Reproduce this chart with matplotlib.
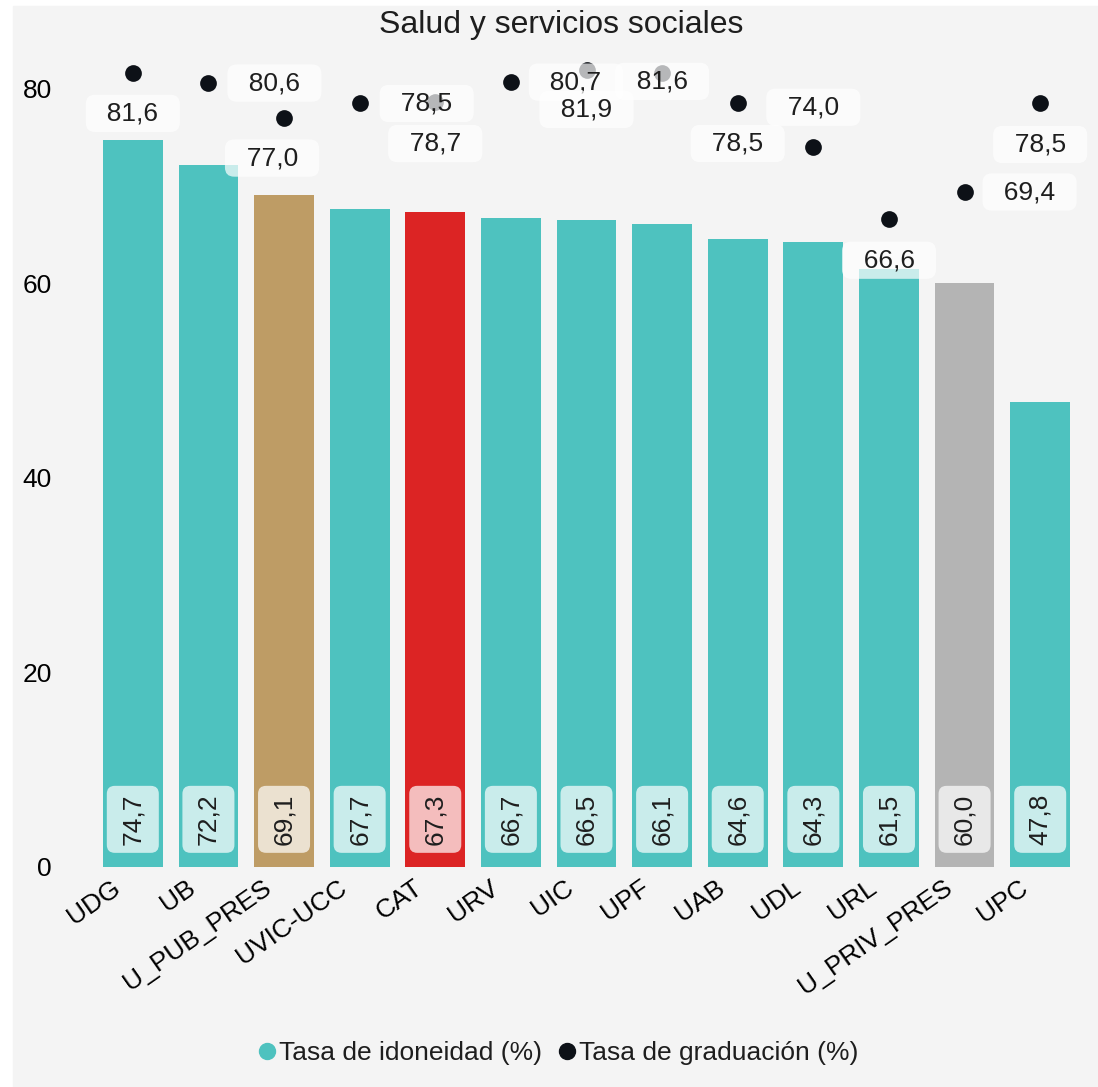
import numpy as np
import matplotlib as mpl
mpl.use('Agg')
import matplotlib.pyplot as plt
from matplotlib.patches import Rectangle, FancyBboxPatch
from matplotlib.lines import Line2D
from matplotlib.transforms import ScaledTranslation

mpl.rcParams['font.family'] = ['Liberation Sans', 'DejaVu Sans']
mpl.rcParams['text.color'] = '#1e1e1e'

# data -------------------------------------------------------------------------
unis = ['UDG', 'UB', 'U_PUB_PRES', 'UVIC-UCC', 'CAT', 'URV', 'UIC', 'UPF',
        'UAB', 'UDL', 'URL', 'U_PRIV_PRES', 'UPC']
idoneidad = [74.7, 72.2, 69.1, 67.7, 67.3, 66.7, 66.5, 66.1, 64.6, 64.3, 61.5, 60.0, 47.8]
graduacion = [81.6, 80.6, 77.0, 78.5, 78.7, 80.7, 81.9, 81.6, 78.5, 74.0, 66.6, 69.4, 78.5]
yticks = [0, 20, 40, 60, 80]
title = 'Salud y servicios sociales'
legend_labels = ['Tasa de idoneidad (%)', 'Tasa de graduación (%)']

# style ------------------------------------------------------------------------
teal, dark = '#4ec2bf', '#0d1117'
special = {'U_PUB_PRES': '#be9c65', 'CAT': '#dc2424', 'U_PRIV_PRES': '#b4b4b4'}
colors = [special.get(u, teal) for u in unis]
# label offsets (pixels) for graduation labels
offs = [(0, -40), (66, 0), (-12, -40), (67, 0), (0, -42), (65, 0), (0, -39),
        (0, -8), (0, -40), (0, 40), (0, -41), (65, 0), (0, -41)]

def fmt(v):
    return ('%.1f' % v).replace('.', ',')

W, H = 1098, 1087
fig = plt.figure(figsize=(W / 100, H / 100), dpi=100)
fig.patch.set_facecolor('white')
fig.add_artist(Rectangle((13 / W, 0), 1, 1 - 6 / H, transform=fig.transFigure,
                         color='#f4f4f4', zorder=0))

ax = fig.add_axes([95 / W, 220 / H, (1078 - 95) / W, (1037 - 220) / H])
ax.set_facecolor('none')
x = np.arange(len(unis))
ax.set_xlim(-0.5, len(unis) - 0.5)
ax.set_ylim(0, 84)

ax.bar(x, idoneidad, width=0.79, color=colors, zorder=2)
ax.scatter(x, graduacion, s=145, color=dark, zorder=3, linewidths=0)

# pixel -> data scale for the inner label boxes
xpx = (1078 - 95) / len(unis)
ypx = (1037 - 220) / 84.0
bw, bh = 52 / xpx, 67 / ypx
for i, v in enumerate(idoneidad):
    box = FancyBboxPatch((i - bw / 2, 4.9 - bh / 2), bw, bh,
                         boxstyle='round,pad=0,rounding_size=%f' % (8 / xpx),
                         mutation_aspect=xpx / ypx, fc='white', ec='none',
                         alpha=0.7, zorder=4)
    ax.add_patch(box)
    ax.text(i, 4.9, fmt(v), rotation=90, ha='center', va='center', fontsize=19,
            zorder=5)

for i, v in enumerate(graduacion):
    ax.annotate('  ' + fmt(v) + '  ', (i, v), xytext=offs[i], textcoords='offset pixels',
                ha='center', va='center', fontsize=19, zorder=5,
                bbox=dict(boxstyle='round,pad=0.25,rounding_size=0.35',
                          fc='white', ec='none', alpha=0.7))

ax.set_yticks(yticks)
ax.set_xticks(x)
ax.set_xticklabels(unis, rotation=35, ha='right', rotation_mode='anchor')
ax.tick_params(axis='both', length=0, labelsize=19)
ax.tick_params(axis='y', pad=31)
ax.tick_params(axis='x', pad=6)
shift = ScaledTranslation(-22 / 100, 0, fig.dpi_scale_trans)
for lab in ax.get_xticklabels():
    lab.set_transform(lab.get_transform() + shift)
for s in ax.spines.values():
    s.set_visible(False)

fig.text(561 / W, 1 - 25 / H, title, ha='center', va='center', fontsize=23)

handles = [Line2D([], [], ls='none', marker='o', ms=11.5, color=teal),
           Line2D([], [], ls='none', marker='o', ms=11.5, color=dark)]
fig.legend(handles, legend_labels, loc='center', bbox_to_anchor=(558 / W, 1 - 1053 / H),
           ncol=2, frameon=False, fontsize=19, handlelength=0.7, handletextpad=0.1,
           columnspacing=0.6, borderpad=0)

fig.savefig('out.png', dpi=100)
